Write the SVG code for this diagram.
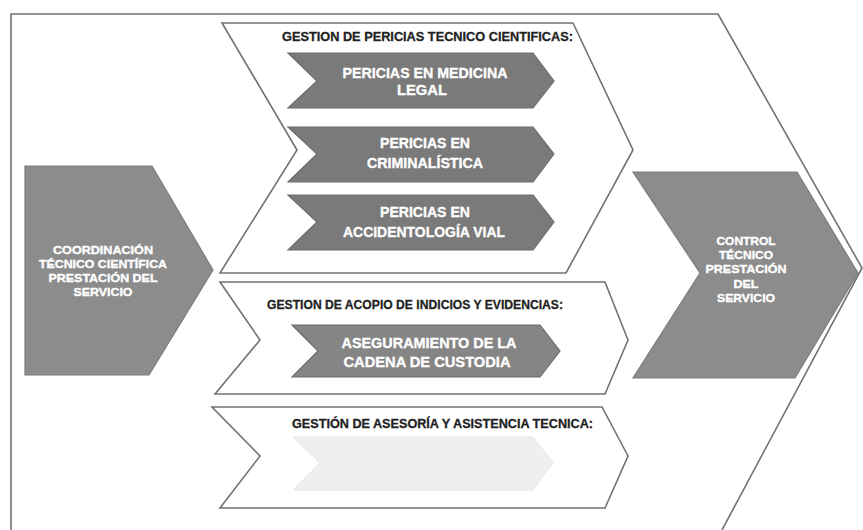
<svg xmlns="http://www.w3.org/2000/svg" width="863" height="530" viewBox="0 0 863 530">
<style>
.outline{fill:#ffffff;stroke:#727272;stroke-width:1.6;stroke-linejoin:miter}
.big{fill:#8c8c8c;stroke:#7c7c7c;stroke-width:1.2}
.inner{fill:#7a7a7a;stroke:#6c6c6c;stroke-width:1.2}
.faint{fill:#efefef;stroke:#e6e6e6;stroke-width:1}
.wt{font-family:"Liberation Sans",Arial,sans-serif;font-weight:bold;fill:#ffffff;stroke:#ffffff;stroke-width:0.35;text-anchor:middle}
.hd{font-family:"Liberation Sans",Arial,sans-serif;font-weight:bold;fill:#222222;stroke:#222222;stroke-width:0.3;font-size:13.5px}
.s12{font-size:11.5px}
.s14{font-size:15px}
</style>
<rect width="863" height="530" fill="#ffffff"/>
<g id="frame">
<polyline class="outline" points="11,530 11,14 718,14 862,268 722,530" style="fill:none"/>
</g>
<g id="node-coordinacion">
<polygon class="big" points="25,166 152,166 213,270 149,375 25,375"/>
<text class="wt s12" x="103" y="254" textLength="100" lengthAdjust="spacingAndGlyphs">COORDINACIÓN</text>
<text class="wt s12" x="103" y="268" textLength="128" lengthAdjust="spacingAndGlyphs">TÉCNICO CIENTÍFICA</text>
<text class="wt s12" x="103" y="282" textLength="109" lengthAdjust="spacingAndGlyphs">PRESTACIÓN DEL</text>
<text class="wt s12" x="103" y="296" textLength="59" lengthAdjust="spacingAndGlyphs">SERVICIO</text>
</g>
<g id="node-pericias">
<polygon class="outline" points="222,23 573,23 633,150 566,273 220,273 297,150"/>
<text class="hd" x="282" y="41" textLength="291" lengthAdjust="spacingAndGlyphs">GESTION DE PERICIAS TECNICO CIENTIFICAS:</text>
</g>
<g id="node-medicina">
<polygon class="inner" points="288,53 533,53 554,81 533,108 288,108 317,81"/>
<text class="wt s14" x="425" y="78" textLength="165" lengthAdjust="spacingAndGlyphs">PERICIAS EN MEDICINA</text>
<text class="wt s14" x="422" y="95" textLength="50" lengthAdjust="spacingAndGlyphs">LEGAL</text>
</g>
<g id="node-criminalistica">
<polygon class="inner" points="288,127 533,127 554,154 533,182 288,182 317,154"/>
<text class="wt s14" x="425" y="148" textLength="90" lengthAdjust="spacingAndGlyphs">PERICIAS EN</text>
<text class="wt s14" x="425" y="168" textLength="116" lengthAdjust="spacingAndGlyphs">CRIMINALÍSTICA</text>
</g>
<g id="node-accidentologia">
<polygon class="inner" points="288,195 533,195 554,222 533,250 288,250 317,222"/>
<text class="wt s14" x="425" y="217" textLength="90" lengthAdjust="spacingAndGlyphs">PERICIAS EN</text>
<text class="wt s14" x="424" y="237" textLength="162" lengthAdjust="spacingAndGlyphs">ACCIDENTOLOGÍA VIAL</text>
</g>
<g id="node-acopio">
<polygon class="outline" points="220,282 605,282 628,340 605,394 215,394 260,340"/>
<text class="hd" x="267" y="309" textLength="296" lengthAdjust="spacingAndGlyphs">GESTION DE ACOPIO DE INDICIOS Y EVIDENCIAS:</text>
</g>
<g id="node-custodia">
<polygon class="inner" points="292,325 540,325 560,351 540,377 292,377 318,351" style="fill:#858585"/>
<text class="wt s14" x="429" y="348" textLength="175" lengthAdjust="spacingAndGlyphs">ASEGURAMIENTO DE LA</text>
<text class="wt s14" x="427" y="367" textLength="167" lengthAdjust="spacingAndGlyphs">CADENA DE CUSTODIA</text>
</g>
<g id="node-asesoria">
<polygon class="outline" points="212,407 602,407 628,456 605,508 220,508 260,456"/>
<text class="hd" x="292" y="428" textLength="301" lengthAdjust="spacingAndGlyphs">GESTIÓN DE ASESORÍA Y ASISTENCIA TECNICA:</text>
</g>
<g id="node-asesoria-faint">
<polygon class="faint" points="293,437 533,437 553,463 533,490 293,490 320,463"/>
</g>
<g id="node-control">
<polygon class="big" points="633,172 797,172 858,273 795,378 633,378 700,273"/>
<text class="wt s12" x="746" y="245" textLength="59" lengthAdjust="spacingAndGlyphs">CONTROL</text>
<text class="wt s12" x="746" y="259" textLength="54" lengthAdjust="spacingAndGlyphs">TÉCNICO</text>
<text class="wt s12" x="746" y="273" textLength="81" lengthAdjust="spacingAndGlyphs">PRESTACIÓN</text>
<text class="wt s12" x="746" y="288" textLength="25" lengthAdjust="spacingAndGlyphs">DEL</text>
<text class="wt s12" x="746" y="302" textLength="58" lengthAdjust="spacingAndGlyphs">SERVICIO</text>
</g>
<g id="connectors"></g>
</svg>
